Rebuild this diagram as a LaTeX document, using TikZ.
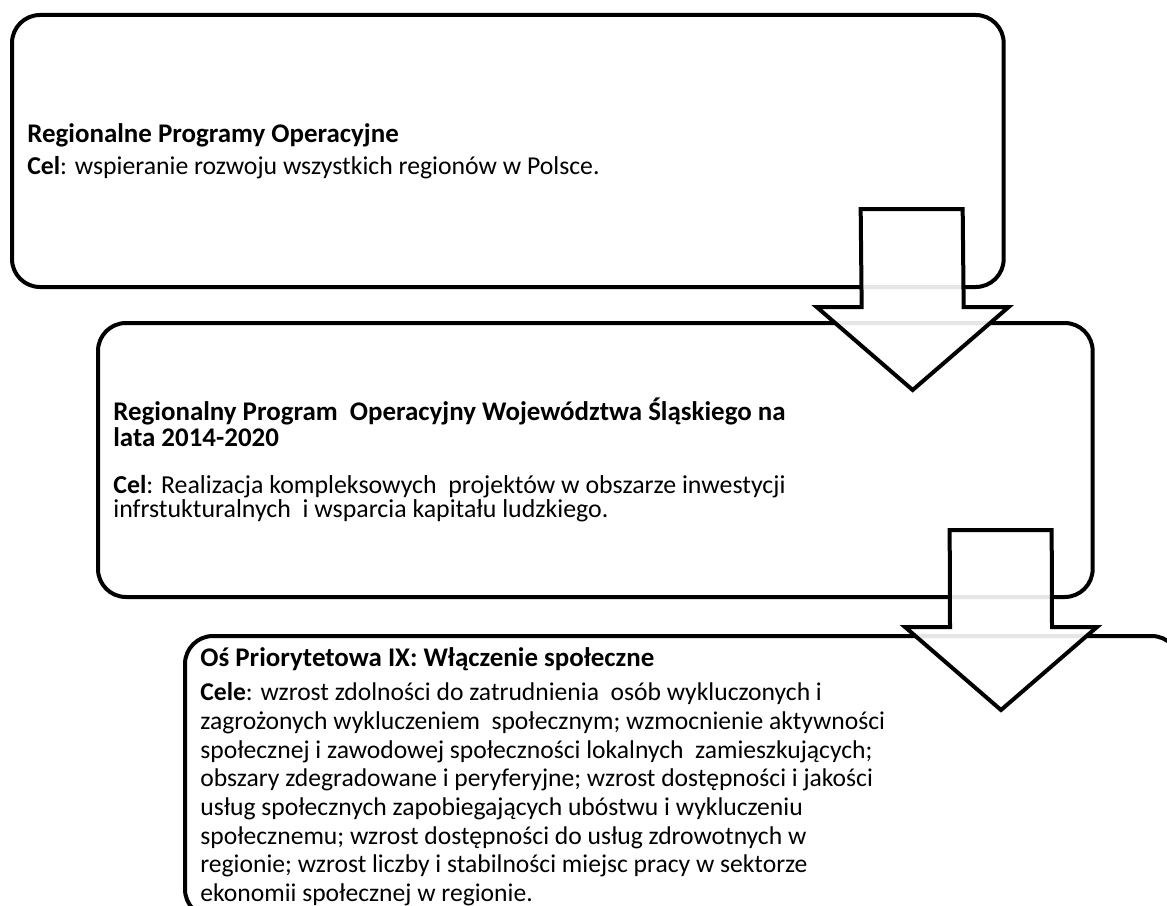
\documentclass[tikz,border=0pt]{standalone}
\usepackage{fontspec}
\setmainfont{Carlito}
\usetikzlibrary{positioning,calc}

\tikzset{
  panel/.style = {rectangle, rounded corners=21pt, draw=black, line width=3pt, fill=white, outer sep=0pt,
                  anchor=north west, align=flush left, inner xsep=11.5pt, inner ysep=4pt},
  blockarrow/.style = {draw=black, line width=3pt, fill=white, fill opacity=0.9, miter limit=10},
}

% bold heading inside a panel
\newcommand{\headtxt}[1]{{\fontsize{20.2}{18}\selectfont\bfseries #1}}

% block arrow from a top centre point down to a tip
\newcommand{\downblock}[2]{%
  \draw[blockarrow] ($(#1)+(-51,0)$) -- ($(#2)+(-51,-83)$) -- ($(#2)+(-96,-83)$) -- (#2)
     -- ($(#2)+(96,-83)$) -- ($(#2)+(51,-83)$) -- ($(#1)+(51,0)$) -- cycle;}

\begin{document}
\begin{tikzpicture}[x=0.75pt, y=-0.75pt]
\useasboundingbox (0,0) rectangle (1167,906);

\node (rpo) [panel, text width=720.75pt, minimum height=204pt,
             font=\fontsize{19.3}{20}\selectfont] at (12,15)
  {\headtxt{Regionalne Programy Operacyjne}\\[4pt]
   \textbf{Cel}: wspieranie rozwoju wszystkich regionów w Polsce.};

\node (rpowsl) [panel, text width=723pt, minimum height=205.5pt,
                font=\fontsize{19.4}{18}\selectfont] at ([shift={(86,36)}]rpo.south west)
  {\headtxt{Regionalny Program\ \ Operacyjny Województwa Śląskiego na}\\[1.2pt]
   \headtxt{lata 2014-2020}\\[17pt]
   \textbf{Cel}: Realizacja  kompleksowych\ \ projektów w obszarze inwestycji\\
   infrstukturalnych\ \ i wsparcia kapitału ludzkiego.};

\node (os9) [panel, text width=723pt, inner ysep=8.5pt,
             font=\fontsize{19.2}{21.5}\selectfont] at ([shift={(87,39)}]rpowsl.south west)
  {\headtxt{Oś Priorytetowa IX: Włączenie społeczne}\\[4.5pt]
   \textbf{Cele}: wzrost zdolności do zatrudnienia\ \ osób wykluczonych i\\
   zagrożonych wykluczeniem\ \ społecznym; wzmocnienie aktywności\\
   społecznej i zawodowej społeczności lokalnych\ \ zamieszkujących;\\
   obszary zdegradowane i peryferyjne; wzrost dostępności i jakości\\
   usług społecznych zapobiegających ubóstwu i wykluczeniu\\
   społecznemu; wzrost dostępności do usług zdrowotnych w\\
   regionie; wzrost liczby i stabilności miejsc pracy w sektorze\\
   ekonomii społecznej w regionie.};

\coordinate (a1top) at ([shift={(-92,-78)}]rpo.south east);
\coordinate (a1tip) at ([shift={(-180,67)}]rpowsl.north east);
\coordinate (a2top) at ([shift={(-92,-67)}]rpowsl.south east);
\coordinate (a2tip) at ([shift={(816,74)}]os9.north west);

\downblock{a1top}{a1tip}
\downblock{a2top}{a2tip}

\end{tikzpicture}
\end{document}
